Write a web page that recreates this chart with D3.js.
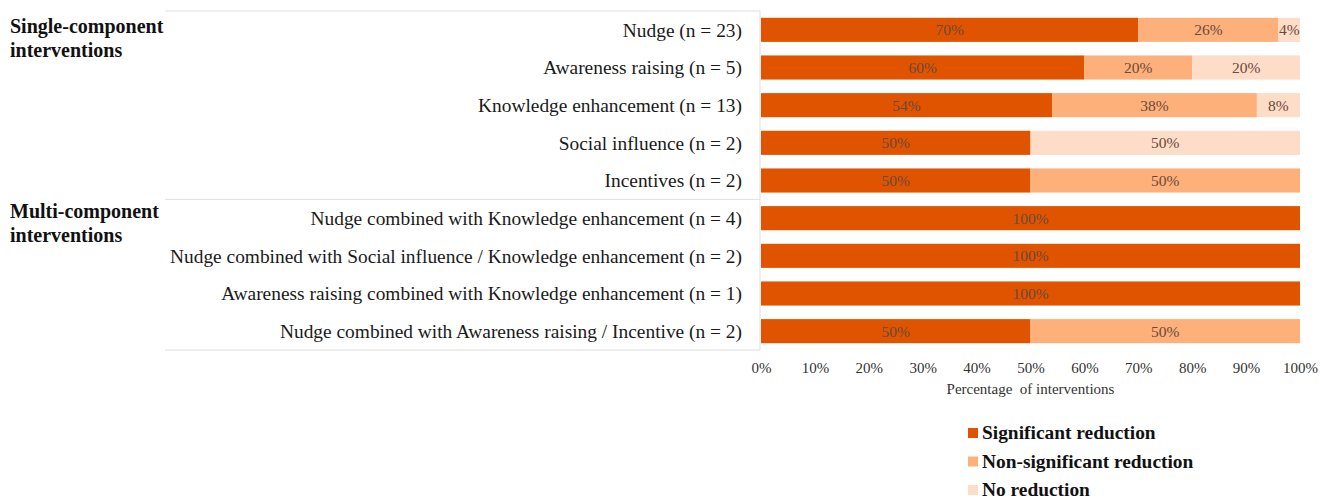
<!DOCTYPE html>
<html>
<head>
<meta charset="utf-8">
<script src="https://cdn.jsdelivr.net/npm/d3@7"></script>
<style>
  body { margin: 0; background: #fff; }
</style>
</head>
<body>
<svg id="chart" width="1320" height="500" font-family="'Liberation Serif', 'Times New Roman', serif"></svg>
<script>
// categories, top to bottom
const categories = [
  "Nudge (n = 23)",
  "Awareness raising (n = 5)",
  "Knowledge enhancement (n = 13)",
  "Social influence (n = 2)",
  "Incentives (n = 2)",
  "Nudge combined with Knowledge enhancement (n = 4)",
  "Nudge combined with Social influence / Knowledge enhancement (n = 2)",
  "Awareness raising combined with Knowledge enhancement (n = 1)",
  "Nudge combined with Awareness raising / Incentive (n = 2)"
];
const significant    = [70, 60, 54, 50, 50, 100, 100, 100, 50];
const nonSignificant = [26, 20, 38, 0, 50, 0, 0, 0, 50];
const noReduction    = [4, 20, 8, 50, 0, 0, 0, 0, 0];

const seriesNames = ["Significant reduction", "Non-significant reduction", "No reduction"];
const seriesColors = ["#e05400", "#fdb07a", "#fddcc8"];
const groups = [
  { label: ["Single-component", "interventions"], first: 0 },
  { label: ["Multi-component", "interventions"], first: 5 }
];
const xTicks = [0, 10, 20, 30, 40, 50, 60, 70, 80, 90, 100];

const FONT = "'Liberation Serif', 'Times New Roman', serif";
const svg = d3.select("#chart");

const x = d3.scaleLinear().domain([0, 100]).range([761, 1300]);
const y = d3.scaleBand().domain(categories).range([11, 350]).paddingInner(0.36).paddingOuter(0.18);

// table lines
const step = y.step();
const top0 = 11;
const lineColor = "#dedede";
[top0, top0 + step * 5, 350].forEach(v => {
  svg.append("line").attr("x1", 165).attr("x2", 760).attr("y1", v).attr("y2", v).attr("stroke", lineColor);
});
svg.append("line").attr("x1", 760).attr("x2", 760).attr("y1", top0).attr("y2", 350).attr("stroke", lineColor);

// group labels
groups.forEach((g, gi) => {
  const yTop = top0 + step * g.first;
  const t = svg.append("text")
    .attr("x", 10)
    .attr("y", yTop + (gi === 0 ? 22 : 19))
    .attr("font-family", FONT)
    .attr("font-size", 20)
    .attr("font-weight", "bold")
    .attr("fill", "#111");
  g.label.forEach((s, i) => {
    t.append("tspan").attr("x", 10).attr("dy", i === 0 ? 0 : 23.5).text(s);
  });
});

// category labels
svg.selectAll("text.cat")
  .data(categories)
  .enter().append("text")
  .attr("class", "cat")
  .attr("x", 742)
  .attr("y", d => y(d) + y.bandwidth() / 2)
  .attr("dy", "0.35em")
  .attr("text-anchor", "end")
  .attr("font-family", FONT)
  .attr("font-size", 19.4)
  .attr("fill", "#1a1a1a")
  .text(d => d);

// stacked bars
const rows = categories.map((c, i) => ({ cat: c, s0: significant[i], s1: nonSignificant[i], s2: noReduction[i] }));
const stack = d3.stack().keys(["s0", "s1", "s2"])(rows);

const layer = svg.selectAll("g.layer")
  .data(stack)
  .enter().append("g")
  .attr("class", "layer")
  .attr("fill", (d, i) => seriesColors[i]);

layer.selectAll("rect")
  .data(d => d)
  .enter().append("rect")
  .attr("x", d => x(d[0]))
  .attr("y", d => y(d.data.cat))
  .attr("width", d => x(d[1]) - x(d[0]))
  .attr("height", y.bandwidth());

layer.selectAll("text")
  .data(d => d.filter(s => s[1] - s[0] > 0))
  .enter().append("text")
  .attr("x", d => (x(d[0]) + x(d[1])) / 2)
  .attr("y", d => y(d.data.cat) + y.bandwidth() / 2)
  .attr("dy", "0.35em")
  .attr("text-anchor", "middle")
  .attr("font-family", FONT)
  .attr("font-size", 15.5)
  .attr("fill", "#6a4a3a")
  .text(d => (d[1] - d[0]) + "%");

// x axis
const xAxis = d3.axisBottom(x).tickValues(xTicks).tickFormat(d => d + "%").tickSize(0).tickPadding(0);
const ax = svg.append("g").attr("transform", "translate(0,362)").call(xAxis);
ax.select(".domain").remove();
ax.selectAll("text")
  .attr("font-family", FONT)
  .attr("font-size", 15)
  .attr("fill", "#333");

svg.append("text")
  .attr("x", (x(0) + x(100)) / 2)
  .attr("y", 394)
  .attr("text-anchor", "middle")
  .attr("font-family", FONT)
  .attr("font-size", 15)
  .attr("fill", "#333")
  .attr("xml:space", "preserve")
  .text("Percentage  of interventions");

// legend
const legend = svg.selectAll("g.leg")
  .data(seriesNames)
  .enter().append("g")
  .attr("class", "leg")
  .attr("transform", (d, i) => `translate(968,${433 + i * 28.5})`);
legend.append("rect")
  .attr("x", 0).attr("y", -5).attr("width", 10).attr("height", 10)
  .attr("fill", (d, i) => seriesColors[i]);
legend.append("text")
  .attr("x", 14)
  .attr("dy", "0.33em")
  .attr("font-family", FONT)
  .attr("font-size", 19.4)
  .attr("font-weight", "bold")
  .attr("fill", "#111")
  .text(d => d);
</script>
</body>
</html>
